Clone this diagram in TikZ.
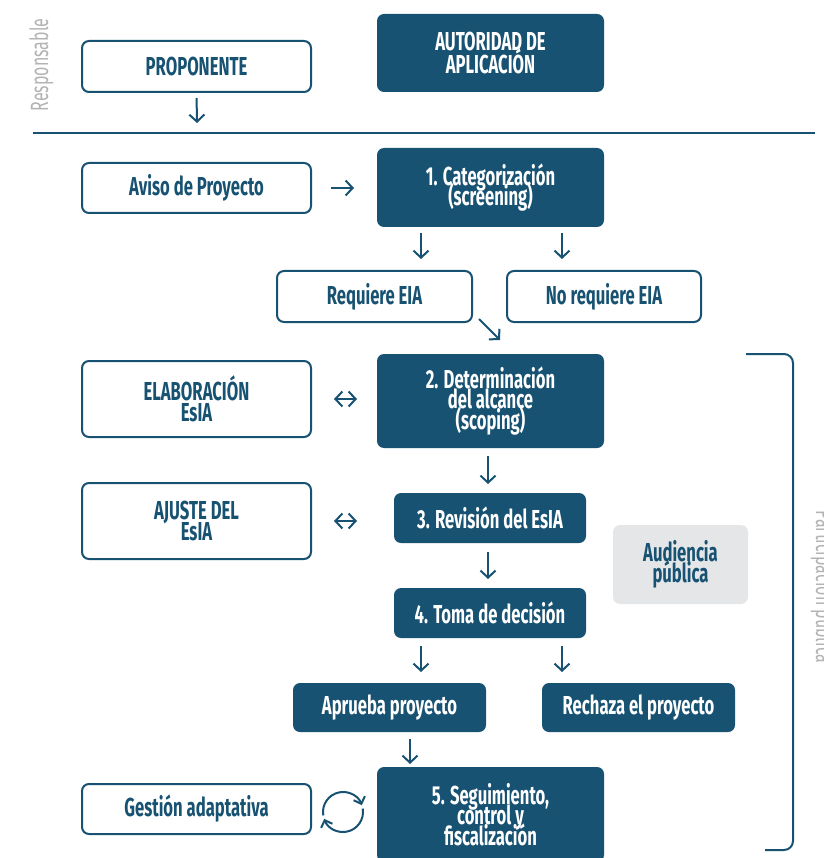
\documentclass[tikz,border=0pt]{standalone}
\usepackage{fontspec}
\setmainfont{Fira Sans}[FakeStretch=0.64]
\usetikzlibrary{arrows.meta,calc}
\definecolor{dblue}{HTML}{175272}
\definecolor{lgray}{HTML}{E5E6E8}
\definecolor{tgray}{HTML}{B3B3B3}
\newcommand\myboxfont{\fontsize{26}{20.5}\selectfont\bfseries\lineskiplimit=-100pt\relax\lineskip=0pt\relax}
\newcommand\myauthfont{\fontsize{26}{23}\selectfont\bfseries\lineskiplimit=-100pt\relax\lineskip=0pt\relax}
\tikzset{
 basebox/.style={rounded corners=7pt, line width=2pt, inner sep=0pt, align=center,
   font=\myboxfont},
 wbox/.style={basebox, draw=dblue, fill=white, text=dblue},
 dbox/.style={basebox, fill=dblue, text=white},
 gbox/.style={basebox, fill=lgray, text=dblue},
 tip/.tip={Straight Barb[length=7pt,width=15pt]},
 stip/.tip={Straight Barb[length=6pt,width=12pt]},
 arr/.style={draw=dblue, line width=2pt, -tip},
 darr/.style={draw=dblue, line width=2pt, tip-tip},
 sidelbl/.style={text=tgray, font=\fontsize{25}{25}\selectfont}
}
\begin{document}
\begin{tikzpicture}[x=1pt,y=-1pt]
\useasboundingbox (0,0) rectangle (823,858);
\clip (0,0) rectangle (823,858);

% side labels
\node[sidelbl, rotate=90, anchor=base] (resp) at (48,65) {Responsable};
\node[sidelbl, rotate=-90, anchor=base] (part) at (816,587) {Participación pública};

% rule
\coordinate (r1) at (33,133);
\coordinate (r2) at (815,133);
\draw[dblue, line width=2pt] (r1) -- (r2);

% boxes
\node[wbox, minimum width=229, minimum height=51] (prop) at (196.5,66.5) {PROPONENTE};
\node[dbox, minimum width=227, minimum height=78, font=\myauthfont] (auth) at (490.5,53) {AUTORIDAD DE\\APLICACIÓN};
\node[wbox, minimum width=229, minimum height=50] (aviso) at (196.5,188) {Aviso de Proyecto};
\node[dbox, minimum width=227, minimum height=79] (cat) at (490.5,187.5) {1. Categorización\\(screening)};
\node[wbox, minimum width=195, minimum height=51] (req) at (374.5,296.5) {Requiere EIA};
\node[wbox, minimum width=194, minimum height=51] (noreq) at (604,296.5) {No requiere EIA};
\node[dbox, minimum width=227, minimum height=94] (det) at (490.5,401) {2. Determinación\\del alcance\\(scoping)};
\node[wbox, minimum width=229, minimum height=76] (elab) at (196.5,399) {ELABORACIÓN\\EsIA};
\node[dbox, minimum width=192, minimum height=50] (rev) at (490,518) {3. Revisión del EsIA};
\node[wbox, minimum width=229, minimum height=76] (ajuste) at (196.5,521) {AJUSTE DEL\\EsIA};
\node[gbox, minimum width=135, minimum height=79] (aud) at (680.5,564.5) {Audiencia\\pública};
\node[dbox, minimum width=192, minimum height=50] (toma) at (490,613) {4. Toma de decisión};
\node[dbox, minimum width=193, minimum height=49] (aprueba) at (389.5,707.5) {Aprueba proyecto};
\node[dbox, minimum width=193, minimum height=49] (rechaza) at (638.5,707.5) {Rechaza el proyecto};
\node[dbox, minimum width=227, minimum height=95] (seg) at (490.5,814.5) {5. Seguimiento,\\control y\\fiscalización};
\node[wbox, minimum width=229, minimum height=50] (gest) at (196.5,809) {Gestión adaptativa};

% arrows
\coordinate (a0) at (197,123);
\draw[arr, shorten <=5pt] (prop.south) -- (a0);
\draw[arr, shorten <=19pt, shorten >=22pt] (aviso.east) -- (aviso.east -| cat.west);
\coordinate (xa) at (421,0);
\coordinate (xb) at (562,0);
\coordinate (xc) at (488,0);
\coordinate (xd) at (410,0);
\draw[arr, shorten <=5pt, shorten >=11pt] (cat.south -| xa) -- (req.north -| xa);
\draw[arr, shorten <=5pt, shorten >=11pt] (cat.south -| xb) -- (noreq.north -| xb);
\draw[arr] ($(req.south east)+(6,-4)$) -- ($(req.south east)+(27,17)$);
\draw[darr, shorten <=22pt, shorten >=19pt] (elab.east) -- (elab.east -| det.west);
\draw[arr, shorten <=7pt, shorten >=8pt] (det.south -| xc) -- (rev.north -| xc);
\draw[darr, shorten <=22pt, shorten >=36pt] (ajuste.east) -- (ajuste.east -| rev.west);
\draw[arr, shorten <=8pt, shorten >=8pt] (rev.south -| xc) -- (toma.north -| xc);
\draw[arr, shorten <=7pt, shorten >=10pt] (toma.south -| xa) -- (aprueba.north -| xa);
\draw[arr, shorten <=7pt, shorten >=10pt] (toma.south -| xb) -- (rechaza.north -| xb);
\draw[arr, shorten <=6pt, shorten >=2pt] (aprueba.south -| xd) -- (seg.north -| xd);

% cycle icon
\coordinate (cyc) at (343,812);
\draw[draw=dblue, line width=2pt, -stip] ([shift={(170:20)}]cyc) arc (170:340:20);
\draw[draw=dblue, line width=2pt, -stip] ([shift={(350:20)}]cyc) arc (350:520:20);

% bracket
\coordinate (b1) at (746,354);
\coordinate (b2) at (793,354);
\coordinate (b3) at (793,850);
\coordinate (b4) at (765,850);
\draw[dblue, line width=2pt, rounded corners=9pt] (b1) -- (b2) -- (b3) -- (b4);
\end{tikzpicture}
\end{document}
